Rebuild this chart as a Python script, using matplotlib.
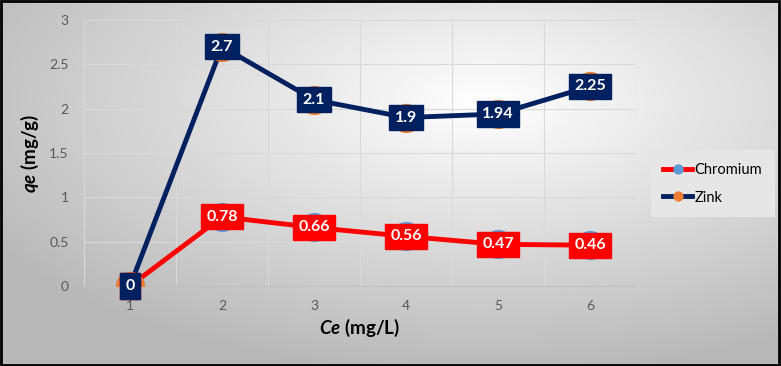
import numpy as np
import matplotlib
matplotlib.use('Agg')
import matplotlib.pyplot as plt

plt.rcParams['font.family'] = ['Lato', 'DejaVu Sans']
plt.rcParams['mathtext.fontset'] = 'custom'
plt.rcParams['mathtext.bf'] = 'Lato:bold:italic'

# data
categories = [1, 2, 3, 4, 5, 6]
chromium = [0, 0.78, 0.66, 0.56, 0.47, 0.46]
zink = [0, 2.7, 2.1, 1.9, 1.94, 2.25]
y_ticks = [0, 0.5, 1, 1.5, 2, 2.5, 3]
y_tick_labels = ['0', '0.5', '1', '1.5', '2', '2.5', '3']

red = '#ff0000'
navy = '#002060'
blue_marker = '#5b9bd5'
orange_marker = '#ed7d31'

fig = plt.figure(figsize=(7.81, 3.66), dpi=100)

# background gradient (light in the middle, gray towards the edges)
bg = fig.add_axes([0, 0, 1, 1])
yy, xx = np.mgrid[0:1:200j, 0:1:400j]
r = np.sqrt(((xx - 0.62) / 0.75) ** 2 + ((yy - 0.72) / 0.75) ** 2)
shade = np.clip(1.0 - 0.28 * r, 0.72, 1.0)
bg.imshow(shade, cmap='gray', vmin=0, vmax=1, extent=[0, 1, 0, 1],
          aspect='auto', origin='lower')
bg.set_xlim(0, 1)
bg.set_ylim(0, 1)
bg.axis('off')
bg.add_patch(plt.Rectangle((0.001, 0.002), 0.997, 0.995, fill=False,
                           edgecolor='black', linewidth=2,
                           transform=bg.transAxes))

ax = fig.add_axes([0.1076, 0.2186, 0.7067, 0.7268])
ax.patch.set_alpha(0)

ax.plot(categories, chromium, color=red, linewidth=3.5, marker='o',
        markersize=20, markerfacecolor=blue_marker, markeredgecolor=blue_marker,
        label='Chromium', zorder=3)
ax.plot(categories, zink, color=navy, linewidth=3.5, marker='o',
        markersize=20, markerfacecolor=orange_marker, markeredgecolor=orange_marker,
        label='Zink', zorder=4)

for series, col, z in [(chromium, red, 5), (zink, navy, 6)]:
    for xv, yv in zip(categories, series):
        ax.text(xv, yv, f'{yv:g}', color='white', fontsize=11.5, fontweight='bold',
                ha='center', va='center', zorder=z,
                bbox=dict(boxstyle='square,pad=0.35', facecolor=col, edgecolor=col))

ax.set_xlim(0.5, 6.5)
ax.set_ylim(0, 3)
ax.set_xticks(categories)
ax.set_xticks([1.5, 2.5, 3.5, 4.5, 5.5, 6.5], minor=True)
ax.set_yticks(y_ticks)
ax.set_yticklabels(y_tick_labels)
ax.tick_params(axis='both', which='both', length=0, labelsize=10,
               labelcolor='#595959', pad=11)
ax.tick_params(axis='x', pad=10)
ax.grid(axis='y', which='major', color='#d9d9d9', linewidth=0.8)
ax.grid(axis='x', which='minor', color='#d9d9d9', linewidth=0.8)
for s in ['top', 'right']:
    ax.spines[s].set_visible(False)
ax.spines['left'].set_color('#d9d9d9')
ax.spines['bottom'].set_color('#bfbfbf')

ax.set_xlabel(r'$\mathbf{Ce}$ (mg/L)', fontsize=13.5, fontweight='bold', labelpad=4)
ax.set_ylabel(r'$\mathbf{qe}$ (mg/g)', fontsize=13.5, fontweight='bold', labelpad=6)

leg = ax.legend(loc='center left', bbox_to_anchor=(1.035, 0.385), frameon=True,
                fontsize=10.5, handlelength=2.0, handletextpad=0.15,
                labelspacing=0.95, borderpad=0.55, borderaxespad=0,
                markerscale=0.32)
leg.get_frame().set_facecolor('#e6e6e6')
leg.get_frame().set_edgecolor('none')
leg.get_frame().set_alpha(1)
leg.get_frame().set_boxstyle('square')

fig.savefig('out.png', dpi=100)
